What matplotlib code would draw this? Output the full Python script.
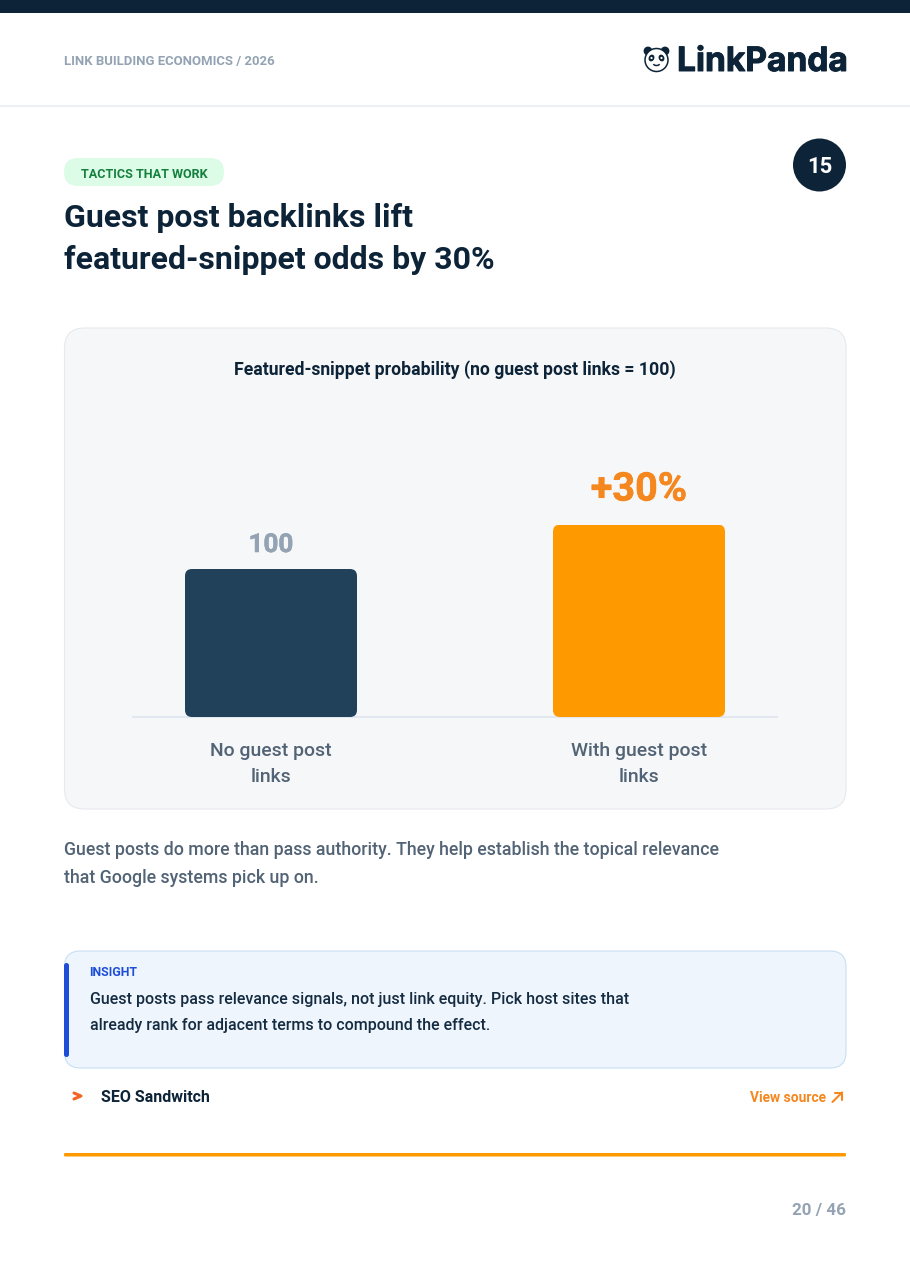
import matplotlib
matplotlib.use("Agg")
import matplotlib.pyplot as plt
from matplotlib.patches import FancyBboxPatch, Rectangle, Circle, Ellipse, Arc
from matplotlib.patheffects import withStroke

plt.rcParams['font.family'] = ['Roboto', 'DejaVu Sans']

categories = ["No guest post\nlinks", "With guest post\nlinks"]
values = [100, 130]
value_labels = ["100", "+30%"]
bar_colors = ["#21415B", "#FF9900"]
label_colors = ["#94A3B3", "#F5871F"]

fig = plt.figure(figsize=(9.10, 12.87), dpi=100, facecolor="white")
page = fig.add_axes([0, 0, 1, 1])
page.set_xlim(0, 910)
page.set_ylim(1287, 0)
page.axis("off")

NAVY = "#0D2438"

def rrect(x0, y0, x1, y1, r, fc, ec="none", lw=0, z=1):
    p = FancyBboxPatch((x0 + r, y0 + r), x1 - x0 - 2 * r, y1 - y0 - 2 * r,
                       boxstyle=f"round,pad={r},rounding_size={r}",
                       fc=fc, ec=ec, lw=lw, zorder=z, mutation_aspect=1)
    page.add_patch(p)
    return p

def T(x, y, s, size, color, weight="normal", ha="left", **kw):
    return page.text(x, y, s, fontsize=size * 0.72, color=color, fontweight=weight,
                     ha=ha, va="baseline", zorder=5, **kw)

# header
page.add_patch(Rectangle((0, 0), 910, 13, fc=NAVY, ec="none"))
page.add_patch(Rectangle((0, 105), 910, 1.5, fc="#EDF0F3", ec="none"))
T(64.5, 65, "LINK BUILDING ECONOMICS / 2026", 13.1, "#94A3B3", "bold")
logo = T(677, 71, "LinkPanda", 33.5, NAVY, "bold", family=["Inter", "DejaVu Sans"])
logo.set_path_effects([withStroke(linewidth=0.7, foreground=NAVY)])

# panda logo
for cx, cy in [(648, 51), (665, 51)]:
    page.add_patch(Circle((cx, cy), 4.4, fc=NAVY, ec="none", zorder=3))
page.add_patch(Circle((656.5, 60), 11.5, fc="white", ec=NAVY, lw=1.1, zorder=4))
for cx, rot in [(651.5, 25), (661.5, -25)]:
    page.add_patch(Ellipse((cx, 58), 5.6, 7, angle=rot, fc=NAVY, ec="none", zorder=5))
    page.add_patch(Circle((cx, 58), 1.1, fc="white", ec="none", zorder=6))
page.add_patch(Arc((656.5, 63), 7, 5, theta1=20, theta2=160, ec=NAVY, lw=1.1, zorder=5))

# tag + badge
rrect(64, 158, 224, 186, 14, "#DCFCE7")
T(81, 178, "TACTICS THAT WORK", 12.6, "#15803D", "bold")
page.add_patch(Circle((819.5, 165), 26.5, fc=NAVY, ec="none"))
T(819.5, 173, "15", 22, "white", "bold", ha="center")

# title
T(64.5, 227, "Guest post backlinks lift", 32, NAVY, "bold")
T(64.5, 269, "featured-snippet odds by 30%", 32, NAVY, "bold")

# chart card
rrect(64.5, 328, 846, 809, 20, "#F6F7F9", ec="#E6E9ED", lw=0.8)
T(455, 375, "Featured-snippet probability (no guest post links = 100)", 17.65, NAVY, "bold", ha="center")

# chart axes: baseline at y=717, 1.48 px per unit
x0, x1, ybase, ytop = 133, 777, 717, 400
ax = fig.add_axes([x0 / 910, 1 - ybase / 1287, (x1 - x0) / 910, (ybase - ytop) / 1287])
ax.patch.set_alpha(0)
ax.set_xlim(-138 / 368, 1 + 138 / 368)
ax.set_ylim(0, (ybase - ytop) / 1.48)
ax.set_yticks([])
ax.set_xticks([])
for s in ["top", "left", "right"]:
    ax.spines[s].set_visible(False)
ax.spines["bottom"].set_color("#E2E8F0")
ax.spines["bottom"].set_linewidth(1.5)
ax.set_zorder(3)

xs = list(range(len(categories)))
bars = ax.bar(xs, values, width=172 / 368, color=bar_colors, zorder=3, clip_on=True)
fig.canvas.draw()
for b in bars:
    e = b.get_window_extent()
    clip = FancyBboxPatch((e.x0 + 7, e.y0 + 7), e.width - 14, e.height - 14,
                          boxstyle="round,pad=7,rounding_size=7",
                          transform=None, fc="none", ec="none")
    b.set_clip_path(clip)

label_sizes = [26, 39.6]
label_gaps = [17, 24]
for x, v, s, c, fs, g in zip(xs, values, value_labels, label_colors, label_sizes, label_gaps):
    ann = ax.annotate(s, (x, v), xytext=(0, g * 0.72), textcoords="offset points", ha="center",
                      va="baseline", fontsize=fs * 0.72, fontweight="bold", color=c, annotation_clip=False)
    ann.set_path_effects([withStroke(linewidth=0.4, foreground=c)])
for x, s in zip(xs, categories):
    l1, l2 = s.split("\n")
    for line, off in ((l1, 39), (l2, 65)):
        ax.annotate(line, (x, 0), xytext=(0, -off * 0.72), textcoords="offset points", ha="center",
                    va="baseline", fontsize=19.4 * 0.72, fontweight="medium", color="#526375",
                    annotation_clip=False)

# body text
T(64.5, 855, "Guest posts do more than pass authority. They help establish the topical relevance", 17.75, "#526375", "medium")
T(64.5, 883, "that Google systems pick up on.", 17.75, "#526375", "medium")

# insight
rrect(64.5, 951, 846, 1068, 16, "#EEF5FD", ec="#C8DFF5", lw=0.8)
rrect(64, 963, 69, 1057, 2.5, "#1D4ED8", z=2)
T(89.5, 976, "INSIGHT", 12.4, "#1D4ED8", "bold")
T(89.5, 1004, "Guest posts pass relevance signals, not just link equity. Pick host sites that", 16.0, "#152B40", "medium")
T(89.5, 1030, "already rank for adjacent terms to compound the effect.", 16.0, "#152B40", "medium")

# source row
page.plot([74, 81, 74], [1093, 1096, 1099], color="#F26522", lw=2.2,
          solid_capstyle="round", solid_joinstyle="round", zorder=5)
T(101, 1102, "SEO Sandwitch", 16, NAVY, "bold")
T(826, 1102, "View source", 13.7, "#F5871F", "bold", ha="right")
page.plot([832.5, 842], [1102, 1092.5], color="#F5871F", lw=1.5, solid_capstyle="round", zorder=5)
page.plot([834.5, 842, 842], [1092.5, 1092.5, 1100], color="#F5871F", lw=1.5,
          solid_capstyle="round", solid_joinstyle="miter", zorder=5)

# rule + page number
rrect(64, 1153, 846, 1156.5, 1.2, "#FF9900")
T(846, 1215, "20 / 46", 17, "#94A3B3", "bold", ha="right")

fig.savefig("out.png", dpi=100, facecolor="white")
